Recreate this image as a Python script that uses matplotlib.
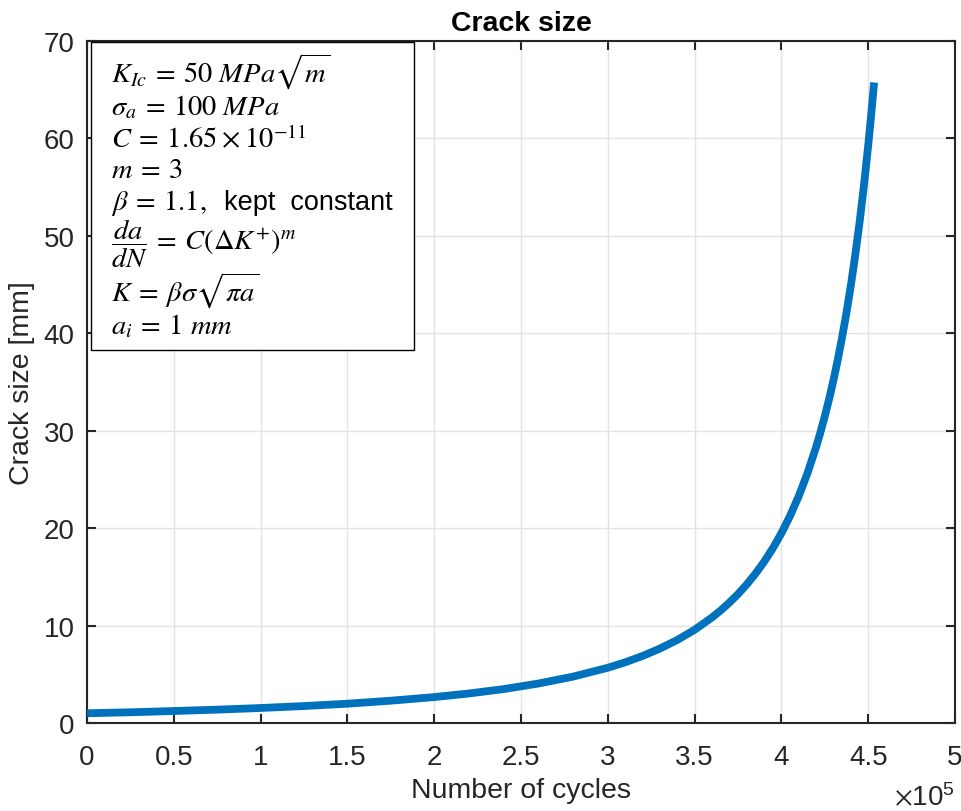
import numpy as np
import matplotlib
matplotlib.use("Agg")
import matplotlib.pyplot as plt
from matplotlib.patches import Rectangle
from matplotlib.ticker import FixedLocator, FuncFormatter

plt.rcParams["font.family"] = ["Liberation Sans", "DejaVu Sans"]
plt.rcParams["mathtext.fontset"] = "stix"

# Crack length history: cycles vs crack size [mm]
cycles = [0, 25000, 50000, 75000, 100000, 125000, 150000, 175000, 200000,
          220000, 240000, 260000, 280000, 300000, 310000, 320000, 330000,
          340000, 350000, 360000, 365000, 370000, 375000, 380000, 385000,
          390000, 395000, 400000, 405000, 410000, 415000, 420000, 422500,
          425000, 427500, 430000, 432500, 435000, 437500, 440000, 442500,
          445000, 447500, 450000, 451500, 453400]
crack_mm = [1.00, 1.10, 1.23, 1.37, 1.54, 1.74, 1.98, 2.29, 2.66,
            3.03, 3.48, 4.05, 4.76, 5.67, 6.23, 6.88, 7.64,
            8.52, 9.57, 10.83, 11.55, 12.35, 13.23, 14.22, 15.31,
            16.54, 17.92, 19.48, 21.26, 23.29, 25.63, 28.33, 29.85,
            31.49, 33.27, 35.20, 37.31, 39.62, 42.14, 44.91, 47.97,
            51.35, 55.10, 59.28, 62.01, 65.74]

x_ticks = [0, 0.5, 1, 1.5, 2, 2.5, 3, 3.5, 4, 4.5, 5]
y_ticks = [0, 10, 20, 30, 40, 50, 60, 70]

param_lines = [
    r"$K_{Ic}\:=\:50\ MPa\sqrt{m}$",
    r"$\sigma_a\:=\:100\ MPa$",
    r"$C\:=\:1.65\:\times\:10^{-11}$",
    r"$m\:=\:3$",
    r"$\beta\:=\:1.1,$",
    r"$\dfrac{da}{dN}\:=\:C(\Delta K^{+})^{m}$",
    r"$K\:=\:\beta\sigma\sqrt{\pi a}$",
    r"$a_i\:=\:1\ mm$",
]
beta_note = "kept  constant"

W, H = 961, 812
fig = plt.figure(figsize=(W / 100, H / 100), dpi=100)
L, R, T, B = 87, 955, 42, 724
ax = fig.add_axes([L / W, 1 - B / H, (R - L) / W, (B - T) / H])

dark = "#262626"
ax.plot(np.array(cycles) / 1e5, crack_mm, color="#0072BD", lw=5.6,
        solid_capstyle="butt", solid_joinstyle="round", zorder=3)

ax.set_xlim(0, 5)
ax.set_ylim(0, 70)
ax.xaxis.set_major_locator(FixedLocator(x_ticks))
ax.yaxis.set_major_locator(FixedLocator(y_ticks))
ax.xaxis.set_major_formatter(FuncFormatter(lambda v, p: f"{v:g}"))
ax.grid(True, color="#e3e3e3", lw=1.0, zorder=0)
ax.set_axisbelow(True)
for s in ax.spines.values():
    s.set_color(dark)
    s.set_linewidth(1.5)
ax.tick_params(direction="in", length=6.5, width=1.5, color=dark,
               labelcolor=dark, labelsize=20, top=True, right=True)
ax.tick_params(axis="x", pad=15)
ax.tick_params(axis="y", pad=9)

ax.set_xlabel("Number of cycles", fontsize=20.5, color=dark, labelpad=5)
ax.set_ylabel("Crack size [mm]", fontsize=20.5, color=dark, labelpad=6)
ax.set_title("Crack size", fontsize=20.5, fontweight="bold", color="black", pad=8)

fig.text(R / W, 1 - 806 / H, r"$\times\mathregular{10^{5}}$", fontsize=20,
         color=dark, ha="right", va="baseline")


def fx(x):
    return x / W


def fy(y):
    return 1 - y / H


# Parameter box
fig.patches.append(Rectangle((fx(91), fy(351)), fx(414) - fx(91), fy(43) - fy(351),
                             transform=fig.transFigure, facecolor="white",
                             edgecolor="black", lw=1.0, zorder=2))
baselines = [83, 115, 148, 178, 210, None, 302, 334]
for txt, yb in zip(param_lines, baselines):
    if yb is None:
        fig.text(fx(111), fy(244), txt, fontsize=20.5, color="black",
                 ha="left", va="center", zorder=4)
    else:
        fig.text(fx(111), fy(yb), txt, fontsize=20.5, color="black",
                 ha="left", va="baseline", zorder=4)
fig.text(fx(224), fy(210), beta_note, fontsize=19.5, color="black",
         ha="left", va="baseline", zorder=4)

fig.savefig("out.png", dpi=100)
